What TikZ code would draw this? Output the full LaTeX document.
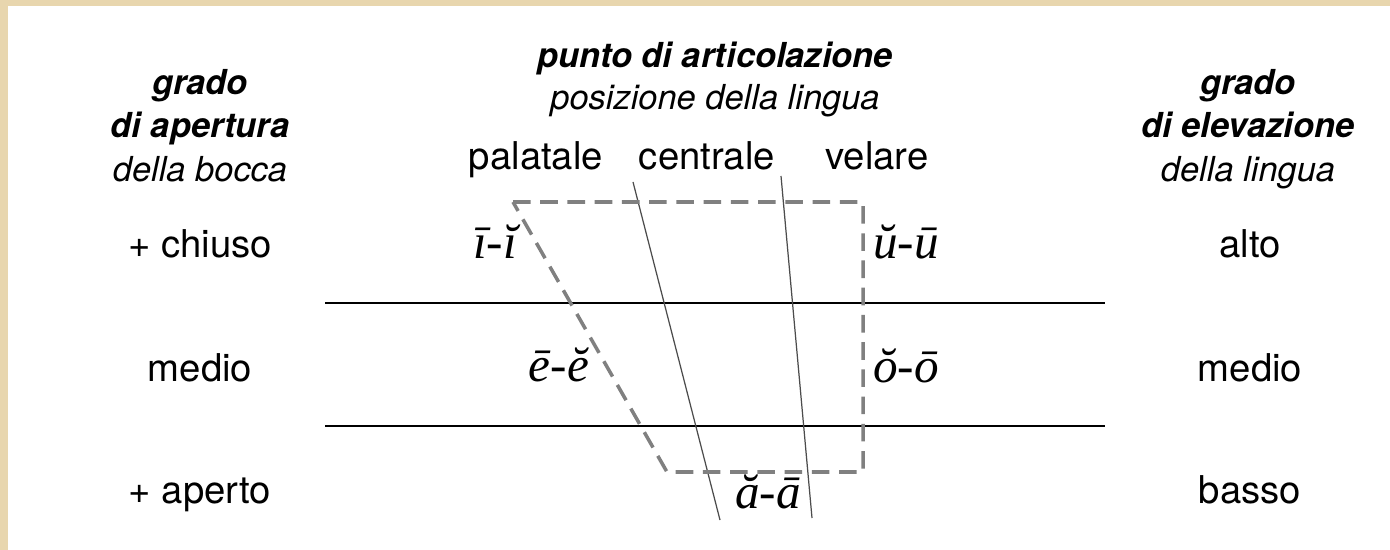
\documentclass[tikz,border=0pt]{standalone}
\usepackage{fontspec}
\setmainfont{TeX Gyre Heros}
\newfontfamily\vowfont{Liberation Serif}
\definecolor{parchment}{RGB}{232,214,174}
\definecolor{dashgray}{RGB}{128,128,128}

\begin{document}
\begin{tikzpicture}[x=0.02cm, y=-0.02cm,
    lab/.style={anchor=base, inner sep=0pt, font=\fontsize{21.8}{24}\selectfont},
    head/.style={anchor=base, inner sep=0pt, font=\fontsize{19.6}{22}\selectfont\bfseries\itshape},
    sub/.style={anchor=base, inner sep=0pt, font=\fontsize{19.6}{22}\selectfont\itshape},
    vow/.style={anchor=base, inner sep=0pt, font=\vowfont\itshape\fontsize{28}{30}\selectfont},
    grid/.style={black, line width=1pt},
    slant/.style={black!70, line width=0.7pt},
    trap/.style={dashgray, line width=2pt, dash pattern=on 10pt off 5.5pt}]
    \useasboundingbox (0,0) rectangle (1390,550);
    \fill[parchment] (0,0) rectangle (1390,550);
    \fill[white] (8,6) rectangle (1390,550);

    % Rows
    \draw[grid] (325,303) -- (1105,303);
    \draw[grid] (325,426) -- (1105,426);
    \draw[slant] (633,182) -- (720,520);
    \draw[slant] (781,176) -- (812,518);
    \draw[trap] (513,202) -- (863,202) -- (863,472) -- (667,472) -- cycle;

    % Left column
    \node[head] (lgrado) at (200,95) {grado};
    \node[head] (lapert) at (200,138) {di apertura};
    \node[sub] (lbocca) at (200,182) {della bocca};
    \node[lab] (chiuso) at (200,258) {+ chiuso};
    \node[lab] (lmedio) at (200,382) {medio};
    \node[lab] (aperto) at (200,503) {+ aperto};

    % Centre
    \node[head] (punto) at (715,68) {punto di articolazione};
    \node[sub] (posiz) at (715,110) {posizione della lingua};
    \node[lab] (palat) at (536,170) {palatale};
    \node[lab] (centr) at (707,170) {centrale};
    \node[lab] (velar) at (877,170) {velare};

    % Right column
    \node[head] (rgrado) at (1248,95) {grado};
    \node[head] (relev) at (1248,138) {di elevazione};
    \node[sub] (rlingua) at (1248,182) {della lingua};
    \node[lab] (alto) at (1250,258) {alto};
    \node[lab] (rmedio) at (1250,382) {medio};
    \node[lab] (basso) at (1250,503) {basso};

    % Vowels
    \node[vow] (vi) at (495,259) {ī-ĭ};
    \node[vow] (vu) at (906,259) {ŭ-ū};
    \node[vow] (ve) at (559,382) {ē-ĕ};
    \node[vow] (vo) at (906,383) {ŏ-ō};
    \node[vow] (va) at (768,508) {ă-ā};
\end{tikzpicture}
\end{document}
